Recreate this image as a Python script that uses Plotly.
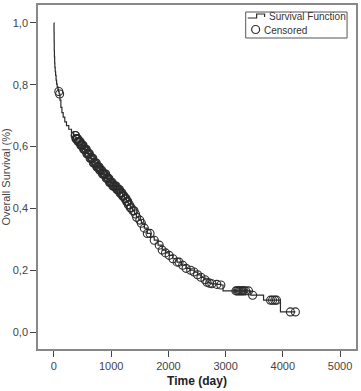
import plotly.graph_objects as go
import bisect

# Kaplan-Meier step curve knots (time in days, survival after step)
step_time = [0, 2, 4, 6, 9, 13, 17, 23, 30, 38,
             47, 58, 70, 80, 92, 105, 122, 140, 162, 190,
             220, 260, 307, 345, 382, 420, 470, 520, 573, 630,
             690, 750, 799, 850, 910, 972, 1030, 1090, 1146, 1200,
             1233, 1267, 1300, 1335, 1372, 1410, 1441, 1485, 1528, 1580,
             1632, 1690, 1753, 1820, 1892, 1950, 2014, 2080, 2153, 2230,
             2309, 2380, 2448, 2510, 2569, 2620, 2674, 2720, 2760, 2847,
             2917, 2955, 3440, 3663, 3958]
step_surv = [1.0, 0.97, 0.94, 0.91, 0.89, 0.87, 0.856, 0.842, 0.83, 0.815,
             0.802, 0.793, 0.785, 0.778, 0.77, 0.75, 0.727, 0.71, 0.695, 0.68,
             0.668, 0.656, 0.646, 0.636, 0.625, 0.616, 0.604, 0.591, 0.577, 0.562,
             0.547, 0.534, 0.523, 0.511, 0.497, 0.484, 0.472, 0.461, 0.450, 0.440,
             0.432, 0.422, 0.412, 0.402, 0.392, 0.382, 0.371, 0.362, 0.352, 0.336,
             0.319, 0.308, 0.297, 0.281, 0.265, 0.256, 0.248, 0.237, 0.226, 0.216,
             0.206, 0.200, 0.194, 0.185, 0.177, 0.169, 0.161, 0.158, 0.156, 0.154,
             0.152, 0.133, 0.119, 0.103, 0.065]
last_followup = 4219

# Censored observation times (days)
censored_time = [85, 100,
                 370, 378, 385, 392, 400, 408, 415, 422, 430, 440, 450, 460, 470, 480,
                 490, 500, 510, 520, 530, 542, 555, 565, 575, 588, 600, 610, 620, 632,
                 645, 658, 670, 680, 690, 702, 715, 728, 740, 750, 760, 770, 780, 790,
                 800, 812, 825, 838, 850, 860, 870, 882, 895, 905, 915, 928, 940, 950,
                 960, 972, 985, 995, 1005, 1018, 1030, 1040, 1050, 1062, 1075, 1088,
                 1100, 1110, 1120, 1132, 1145, 1155, 1165, 1178, 1190, 1200, 1210,
                 1225, 1240, 1250, 1260, 1270, 1280, 1290, 1300, 1320, 1335, 1350,
                 1380, 1400, 1425, 1445,
                 1500, 1528, 1580, 1632, 1680, 1753, 1840, 1892, 1950, 2014, 2080,
                 2153, 2187, 2250, 2309, 2390, 2448, 2510, 2569, 2640, 2674, 2720,
                 2760, 2847, 2917,
                 3180, 3200, 3220, 3240, 3260, 3280, 3300, 3320, 3350, 3400,
                 3472, 3785, 3820, 3860, 3889, 4132, 4219]

x_ticks = [0, 1000, 2000, 3000, 4000, 5000]
y_ticks = [0.0, 0.2, 0.4, 0.6, 0.8, 1.0]
legend_labels = ["Survival Function", "Censored"]


def surv_at(t):
    i = bisect.bisect_right(step_time, t) - 1
    return step_surv[max(i, 0)]


censored_surv = [surv_at(t) for t in censored_time]

line_x = step_time + [last_followup]
line_y = step_surv + [step_surv[-1]]

INK = "#2b2b2b"
fig = go.Figure()
fig.add_trace(go.Scatter(
    x=line_x, y=line_y, mode="lines", line_shape="hv",
    line=dict(color=INK, width=1.2), name=legend_labels[0]))
fig.add_trace(go.Scatter(
    x=censored_time, y=censored_surv, mode="markers", name=legend_labels[1],
    marker=dict(symbol="circle-open", size=8, color=INK,
                line=dict(width=1.1, color=INK))))

# plot-area geometry (pixels) used to place the hand-drawn legend
W, H = 361, 391
ML, MR, MT, MB = 38, 3, 5, 42
PW, PH = W - ML - MR, H - MT - MB


def px(x):
    return (x - ML) / PW


def py(y):
    return (H - MB - y) / PH


shapes = [
    dict(type="rect", xref="paper", yref="paper", x0=px(247), x1=px(349),
         y0=py(38), y1=py(12), line=dict(color="#555", width=1), fillcolor="white",
         layer="above"),
    dict(type="path", xref="paper", yref="paper",
         path=f"M {px(249)},{py(18)} L {px(258)},{py(18)} L {px(258)},{py(14)} "
              f"L {px(266)},{py(14)} L {px(266)},{py(17)}",
         line=dict(color=INK, width=1.2), layer="above"),
    dict(type="circle", xref="paper", yref="paper", x0=px(253), x1=px(261),
         y0=py(33.5), y1=py(25.5), line=dict(color=INK, width=1.2), layer="above"),
]
font_family = "Liberation Sans, Arial, sans-serif"
annotations = [
    dict(xref="paper", yref="paper", x=px(268), y=py(17), text=legend_labels[0],
         showarrow=False, xanchor="left", yanchor="middle",
         font=dict(size=10, color="#333", family=font_family)),
    dict(xref="paper", yref="paper", x=px(263), y=py(30), text=legend_labels[1],
         showarrow=False, xanchor="left", yanchor="middle",
         font=dict(size=10, color="#333", family=font_family)),
]

fig.update_layout(
    width=W, height=H,
    margin=dict(l=ML, r=MR, t=MT, b=MB),
    paper_bgcolor="white", plot_bgcolor="white",
    separators=", ",
    font=dict(family=font_family, size=11, color="#444"),
    showlegend=False,
    shapes=shapes, annotations=annotations,
    xaxis=dict(range=[-278, 5278], tickvals=x_ticks, ticks="outside",
               ticklen=6, tickcolor="#444", showgrid=False, zeroline=False,
               showline=True, linecolor="#888", linewidth=1.5, mirror=True,
               tickformat="d",
               title=dict(text="<b>Time (day)</b>", font=dict(size=12, color="#222"),
                          standoff=6)),
    yaxis=dict(range=[-0.055, 1.058], tickvals=y_ticks, ticks="outside",
               ticklen=6, tickcolor="#444", showgrid=False, zeroline=False,
               showline=True, linecolor="#888", linewidth=1.5, mirror=True,
               tickformat=".1f",
               title=dict(text="Overall Survival (%)", font=dict(size=11, color="#444"),
                          standoff=2)),
)

fig.write_html("out.html")
